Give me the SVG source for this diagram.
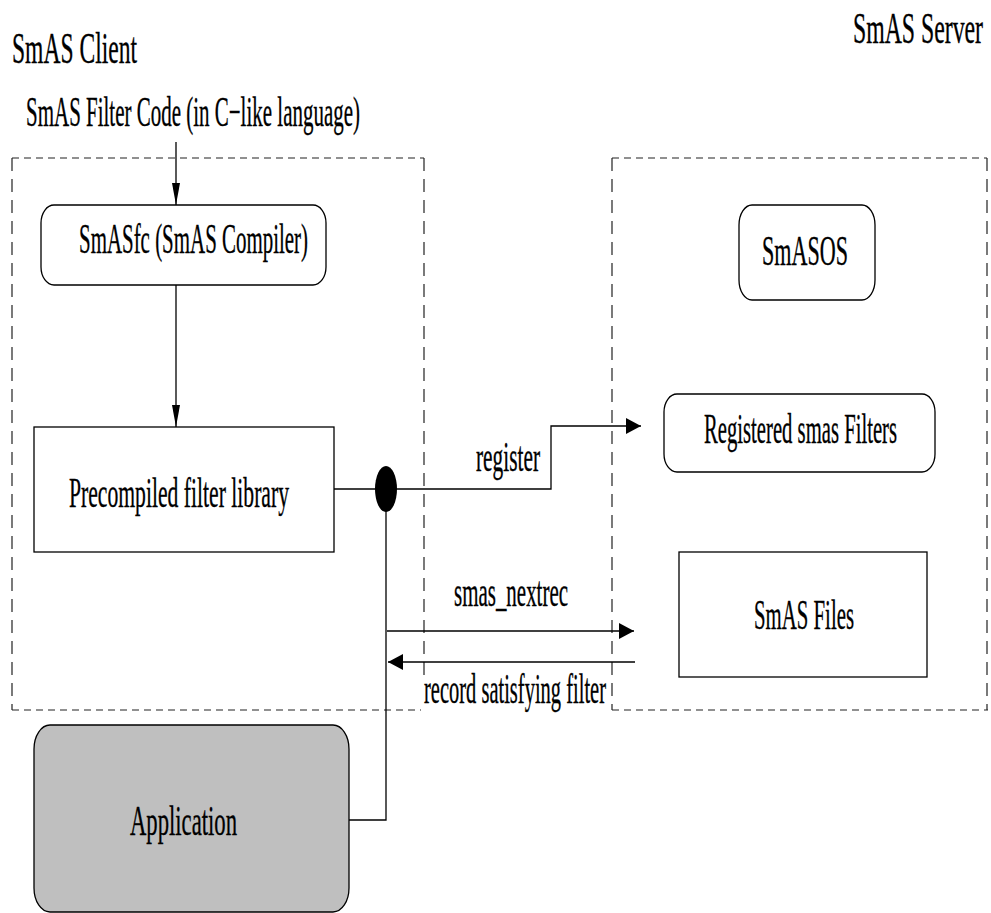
<svg xmlns="http://www.w3.org/2000/svg" width="991" height="913" viewBox="0 0 991 913">
  <style>
    text { fill: #000; stroke: #000; stroke-width: 0.35; }
    .lbl { font-size: 42px; }
    .big { font-size: 45px; }
    .box { fill: #fff; stroke: #000; stroke-width: 1.3; }
    .app { fill: #bfbfbf; stroke: #000; stroke-width: 1.3; }
    .wire { fill: none; stroke: #000; stroke-width: 1.3; }
    .dh { fill: none; stroke: #222; stroke-width: 1.2; stroke-dasharray: 7 5; }
    .dv { fill: none; stroke: #222; stroke-width: 1.2; stroke-dasharray: 13 8; }
  </style>
  <defs>
    <marker id="arrowV" markerUnits="userSpaceOnUse" markerWidth="22" markerHeight="8" refX="22" refY="4" orient="auto">
      <path d="M0,0 L22,4 L0,8 z" fill="#000"/>
    </marker>
    <marker id="arrowH" markerUnits="userSpaceOnUse" markerWidth="15" markerHeight="16" refX="15" refY="8" orient="auto">
      <path d="M0,0 L15,8 L0,16 z" fill="#000"/>
    </marker>
  </defs>

  <g font-family="Liberation Serif, Times New Roman, serif">
  <!-- side captions -->
  <text class="big" x="12" y="63" textLength="125" lengthAdjust="spacingAndGlyphs">SmAS Client</text>
  <text class="big" x="853" y="43" textLength="130" lengthAdjust="spacingAndGlyphs">SmAS Server</text>
  <text class="lbl" x="26" y="126" textLength="334" lengthAdjust="spacingAndGlyphs">SmAS Filter Code (in C−like language)</text>

  <!-- client / server boundaries -->
  <g id="boundaries">
    <path class="dh" d="M12,158 H424 M612,158 H987 M12,710 H988"/>
    <path class="dv" d="M12,158 V710 M424,158 V710 M612,158 V710 M987,158 V710"/>
  </g>

  <g id="connectors">
    <line class="wire" x1="176" y1="142" x2="176" y2="205" marker-end="url(#arrowV)"/>
    <line class="wire" x1="176" y1="285" x2="176" y2="427" marker-end="url(#arrowV)"/>
    <line class="wire" x1="334" y1="489" x2="386" y2="489"/>
    <polyline class="wire" points="386,489 551,489 551,426 641,426" marker-end="url(#arrowH)"/>
    <polyline class="wire" points="386,510 386,820 349,820"/>
    <line class="wire" x1="387" y1="631" x2="634" y2="631" marker-end="url(#arrowH)"/>
    <line class="wire" x1="635" y1="662" x2="388" y2="662" marker-end="url(#arrowH)"/>
    <ellipse cx="386" cy="489" rx="11" ry="23" fill="#000"/>
    <text class="lbl" x="476" y="471" textLength="64" lengthAdjust="spacingAndGlyphs">register</text>
    <text class="lbl" x="454" y="606" textLength="114" lengthAdjust="spacingAndGlyphs">smas_nextrec</text>
    <rect x="421" y="682" width="188" height="30" fill="#fff"/>
    <text class="lbl" x="424" y="703" textLength="182" lengthAdjust="spacingAndGlyphs">record satisfying filter</text>
  </g>

  <g id="compiler">
    <rect class="box" x="41" y="205" width="285" height="80" rx="13" ry="18"/>
    <text class="lbl" x="79" y="253" textLength="229" lengthAdjust="spacingAndGlyphs">SmASfc (SmAS Compiler)</text>
  </g>

  <g id="library">
    <rect class="box" x="34" y="427" width="300" height="125"/>
    <text class="lbl" x="69" y="507" textLength="220" lengthAdjust="spacingAndGlyphs">Precompiled filter library</text>
  </g>

  <g id="smasos">
    <rect class="box" x="739" y="205" width="136" height="95" rx="13" ry="20"/>
    <text class="lbl" x="762" y="265" textLength="86" lengthAdjust="spacingAndGlyphs">SmASOS</text>
  </g>

  <g id="registered">
    <rect class="box" x="664" y="394" width="271" height="78" rx="13" ry="18"/>
    <text class="lbl" x="704" y="443" textLength="193" lengthAdjust="spacingAndGlyphs">Registered smas Filters</text>
  </g>

  <g id="files">
    <rect class="box" x="679" y="552" width="248" height="125"/>
    <text class="lbl" x="754" y="629" textLength="100" lengthAdjust="spacingAndGlyphs">SmAS Files</text>
  </g>

  <g id="application">
    <rect class="app" x="34" y="725" width="315" height="187" rx="16" ry="24"/>
    <text class="lbl" x="130" y="835" textLength="107" lengthAdjust="spacingAndGlyphs">Application</text>
  </g>
  </g>
</svg>
